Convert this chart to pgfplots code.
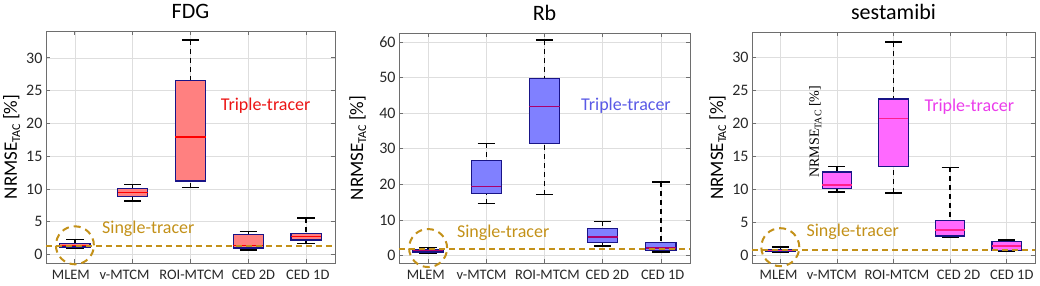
\documentclass[border=0pt]{standalone}
\usepackage{fontspec}
\setmainfont{Carlito}
\newfontfamily\timesfont{Liberation Serif}
\usepackage{pgfplots}
\pgfplotsset{compat=1.18}
\usepgfplotslibrary{statistics}

\definecolor{gold}{RGB}{195,145,25}
\definecolor{edge}{RGB}{25,20,135}
\definecolor{fdgtxt}{RGB}{235,20,20}
\definecolor{rbtxt}{RGB}{90,90,230}
\definecolor{sestxt}{RGB}{235,60,235}
\definecolor{rbmed}{RGB}{170,0,110}
\definecolor{sesmed}{RGB}{255,30,140}
\definecolor{framec}{RGB}{110,110,110}
\definecolor{ticktext}{RGB}{40,40,40}
\definecolor{fdgfill}{RGB}{255,128,128}
\definecolor{rbfill}{RGB}{128,128,255}
\definecolor{sesfill}{RGB}{255,105,255}

\tikzset{ring/.style={draw=gold, line width=2pt, dash pattern=on 7pt off 5pt}}

\pgfplotsset{
  panel/.style={
    scale only axis, anchor=south west,
    xmin=0.5, xmax=5.5, xtick={1,2,3,4,5},
    xticklabels={},
    tick align=inside, major tick length=4pt,
    grid=major, grid style={black!13, line width=0.6pt},
    axis line style={framec, line width=0.9pt},
    tick style={framec, line width=0.8pt},
    extra x tick labels={MLEM,v-MTCM,ROI-MTCM,CED 2D,CED 1D},
    extra x tick style={major tick length=0pt, grid=none},
    xticklabel style={font=\fontsize{14.5}{14.5}\selectfont, text=ticktext, yshift=-4pt},
    yticklabel style={font=\fontsize{16}{16}\selectfont, text=ticktext},
    /pgf/number format/assume math mode=true,
    title style={font=\fontsize{22}{22}\selectfont, yshift=3pt},
    ylabel={NRMSE\raisebox{-0.35ex}{\fontsize{12}{12}\selectfont TAC} [\%]},
    ylabel style={font=\fontsize{19}{19}\selectfont, at={(axis description cs:0,0.5)}, anchor=base},
    clip=false,
    boxplot/draw direction=y,
    boxplot/box extend=0.52,
    boxplot/whisker extend=0.3,
    boxplot/draw/lower whisker/.code={%
      \draw[black, line width=1.4pt, dash pattern=on 5pt off 4pt]
        (boxplot cs:\pgfplotsboxplotvalue{lower whisker}) -- (boxplot cs:\pgfplotsboxplotvalue{lower quartile});
      \draw[black, line width=1.6pt]
        (boxplot whisker cs:\pgfplotsboxplotvalue{lower whisker},0) -- (boxplot whisker cs:\pgfplotsboxplotvalue{lower whisker},1);
    },
    boxplot/draw/upper whisker/.code={%
      \draw[black, line width=1.4pt, dash pattern=on 5pt off 4pt]
        (boxplot cs:\pgfplotsboxplotvalue{upper whisker}) -- (boxplot cs:\pgfplotsboxplotvalue{upper quartile});
      \draw[black, line width=1.6pt]
        (boxplot whisker cs:\pgfplotsboxplotvalue{upper whisker},0) -- (boxplot whisker cs:\pgfplotsboxplotvalue{upper whisker},1);
    },
  },
  fdgbox/.style={boxplot/every box/.style={draw=edge, line width=1.2pt, fill=fdgfill},
                 boxplot/every median/.style={draw=red, line width=1.4pt}},
  rbbox/.style={boxplot/every box/.style={draw=edge, line width=1.2pt, fill=rbfill},
                 boxplot/every median/.style={draw=rbmed, line width=1.4pt}},
  sesbox/.style={boxplot/every box/.style={draw=edge, line width=1.2pt, fill=sesfill},
                 boxplot/every median/.style={draw=sesmed, line width=1.4pt}},
  goldline/.style={draw=gold, solid, line width=2pt, dash pattern=on 6pt off 4pt, forget plot},
}

\begin{document}
\begin{tikzpicture}
\useasboundingbox (0,0) rectangle (1040pt,285pt);

% ---------------- FDG ----------------
\begin{axis}[panel, at={(46pt,22pt)}, width=289pt, height=232pt,
  ymin=-1.3, ymax=34.1, ytick={0,5,10,15,20,25,30}, title={FDG},
  extra x ticks={0.93,1.86,3.02,4.09,5.03},
  ylabel style={yshift=29pt}]
\addplot[fdgbox, boxplot prepared={draw position=1, lower whisker=1.0, lower quartile=1.15, median=1.4, upper quartile=1.65, upper whisker=2.3}] coordinates {};
\addplot[fdgbox, boxplot prepared={draw position=2, lower whisker=8.2, lower quartile=8.9, median=9.5, upper quartile=10.1, upper whisker=10.7}] coordinates {};
\addplot[fdgbox, boxplot prepared={draw position=3, lower whisker=10.2, lower quartile=11.2, median=17.9, upper quartile=26.6, upper whisker=32.7}] coordinates {};
\addplot[fdgbox, boxplot prepared={draw position=4, lower whisker=0.66, lower quartile=1.0, median=1.4, upper quartile=3.0, upper whisker=3.5}] coordinates {};
\addplot[fdgbox, boxplot prepared={draw position=5, lower whisker=1.7, lower quartile=2.2, median=2.75, upper quartile=3.2, upper whisker=5.6}] coordinates {};
\draw[ring] (axis cs:1,1.4) circle[radius=19pt];
\node[text=fdgtxt, font=\fontsize{18}{18}\selectfont] at (axis cs:4.3,22.7) {Triple-tracer};
\node[text=gold, font=\fontsize{18}{18}\selectfont] at (axis cs:2.27,3.9) {Single-tracer};
\addplot[goldline] coordinates {(0.5,1.37) (5.5,1.37)};
\end{axis}

% ---------------- Rb ----------------
\begin{axis}[panel, at={(399pt,22pt)}, width=291pt, height=230pt,
  ymin=-2.1, ymax=62.5, ytick={0,10,20,30,40,50,60}, title={Rb},
  extra x ticks={0.96,1.92,3.05,4.08,5.03},
  ylabel style={yshift=36pt}]
\addplot[rbbox, boxplot prepared={draw position=1, lower whisker=0.7, lower quartile=1.0, median=1.4, upper quartile=1.8, upper whisker=2.2}] coordinates {};
\addplot[rbbox, boxplot prepared={draw position=2, lower whisker=14.6, lower quartile=17.4, median=19.4, upper quartile=26.6, upper whisker=31.5}] coordinates {};
\addplot[rbbox, boxplot prepared={draw position=3, lower whisker=17.1, lower quartile=31.5, median=41.9, upper quartile=49.7, upper whisker=60.5}] coordinates {};
\addplot[rbbox, boxplot prepared={draw position=4, lower whisker=2.6, lower quartile=3.6, median=5.2, upper quartile=7.5, upper whisker=9.6}] coordinates {};
\addplot[rbbox, boxplot prepared={draw position=5, lower whisker=1.0, lower quartile=1.5, median=2.1, upper quartile=3.7, upper whisker=20.6}] coordinates {};
\draw[ring] (axis cs:1,2.1) circle[radius=19pt];
\node[text=rbtxt, font=\fontsize{18}{18}\selectfont] at (axis cs:4.4,42.1) {Triple-tracer};
\node[text=gold, font=\fontsize{18}{18}\selectfont] at (axis cs:2.29,6.4) {Single-tracer};
\addplot[goldline] coordinates {(0.5,1.7) (5.5,1.7)};
\end{axis}

% ---------------- sestamibi ----------------
\begin{axis}[panel, at={(752pt,22pt)}, width=283pt, height=231pt,
  ymin=-1.1, ymax=33.9, ytick={0,5,10,15,20,25,30}, title={sestamibi},
  extra x ticks={0.97,1.91,3.06,4.15,5.09},
  ylabel style={yshift=29pt}]
\addplot[sesbox, boxplot prepared={draw position=1, lower whisker=0.5, lower quartile=0.6, median=0.8, upper quartile=1.0, upper whisker=1.3}] coordinates {};
\addplot[sesbox, boxplot prepared={draw position=2, lower whisker=9.7, lower quartile=10.2, median=10.7, upper quartile=12.7, upper whisker=13.5}] coordinates {};
\addplot[sesbox, boxplot prepared={draw position=3, lower whisker=9.5, lower quartile=13.5, median=20.8, upper quartile=23.75, upper whisker=32.4}] coordinates {};
\addplot[sesbox, boxplot prepared={draw position=4, lower whisker=2.8, lower quartile=3.0, median=3.9, upper quartile=5.35, upper whisker=13.4}] coordinates {};
\addplot[sesbox, boxplot prepared={draw position=5, lower whisker=0.7, lower quartile=0.8, median=1.5, upper quartile=2.1, upper whisker=2.4}] coordinates {};
\draw[ring] (axis cs:1,1.3) circle[radius=19pt];
\node[text=sestxt, font=\fontsize{18}{18}\selectfont] at (axis cs:4.34,22.6) {Triple-tracer};
\node[text=gold, font=\fontsize{18}{18}\selectfont] at (axis cs:2.28,3.6) {Single-tracer};
\node[rotate=90, font=\timesfont\fontsize{14}{14}\selectfont] at (axis cs:1.62,18.8) {NRMSE\raisebox{-0.4ex}{\fontsize{10}{10}\selectfont TAC} [\%]};
\addplot[goldline] coordinates {(0.5,0.8) (5.5,0.8)};
\end{axis}
\end{tikzpicture}
\end{document}
